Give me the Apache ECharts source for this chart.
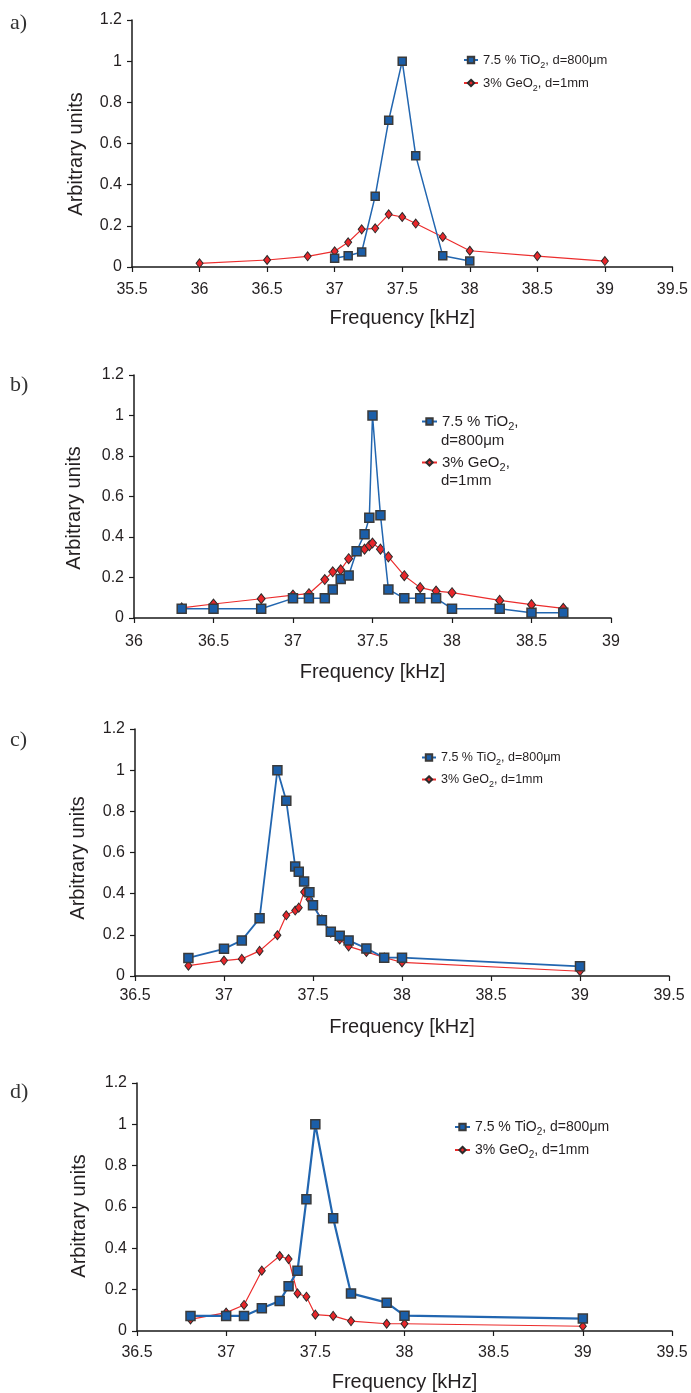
<!DOCTYPE html>
<html>
<head>
<meta charset="utf-8">
<script src="https://cdn.jsdelivr.net/npm/echarts@6/dist/echarts.min.js"></script>
<style>html,body{margin:0;padding:0;background:#fff}#c{width:691px;height:1393px}</style>
</head>
<body>
<div id="c"></div>
<script>
// ---------- DATA ----------
const TI_NAME = '7.5 % TiO2, d=800μm';
const GE_NAME = '3% GeO2, d=1mm';
const panelLabels = ['a)', 'b)', 'c)', 'd)'];
const xTitle = 'Frequency [kHz]';
const yTitle = 'Arbitrary units';

// panel a
const aTiX = [37.0, 37.1, 37.2, 37.3, 37.4, 37.5, 37.6, 37.8, 38.0];
const aTiY = [0.042, 0.055, 0.073, 0.344, 0.713, 1.0, 0.541, 0.055, 0.029];
const aGeX = [36.0, 36.5, 36.8, 37.0, 37.1, 37.2, 37.3, 37.4, 37.5, 37.6, 37.8, 38.0, 38.5, 39.0];
const aGeY = [0.018, 0.034, 0.052, 0.076, 0.12, 0.183, 0.188, 0.256, 0.243, 0.211, 0.146, 0.079, 0.053, 0.029];

// panel b
const bTiX = [36.3, 36.5, 36.8, 37.0, 37.1, 37.2, 37.25, 37.3, 37.35, 37.4, 37.45, 37.48, 37.5, 37.55, 37.6, 37.7, 37.8, 37.9, 38.0, 38.3, 38.5, 38.7];
const bTiY = [0.046, 0.046, 0.046, 0.097, 0.097, 0.097, 0.141, 0.192, 0.21, 0.33, 0.414, 0.495, 1.0, 0.508, 0.141, 0.097, 0.097, 0.097, 0.046, 0.046, 0.026, 0.026];
const bGeX = [36.3, 36.5, 36.8, 37.0, 37.1, 37.2, 37.25, 37.3, 37.35, 37.45, 37.48, 37.5, 37.55, 37.6, 37.7, 37.8, 37.9, 38.0, 38.3, 38.5, 38.7];
const bGeY = [0.05, 0.069, 0.095, 0.113, 0.12, 0.19, 0.228, 0.238, 0.293, 0.34, 0.357, 0.37, 0.34, 0.302, 0.209, 0.15, 0.133, 0.125, 0.087, 0.066, 0.048];

// panel c
const cTiX = [36.8, 37.0, 37.1, 37.2, 37.3, 37.35, 37.4, 37.42, 37.45, 37.48, 37.5, 37.55, 37.6, 37.65, 37.7, 37.8, 37.9, 38.0, 39.0];
const cTiY = [0.088, 0.132, 0.173, 0.28, 1.0, 0.851, 0.532, 0.507, 0.459, 0.407, 0.344, 0.271, 0.215, 0.196, 0.173, 0.134, 0.089, 0.089, 0.047];
const cGeX = [36.8, 37.0, 37.1, 37.2, 37.3, 37.35, 37.4, 37.42, 37.45, 37.48, 37.5, 37.55, 37.6, 37.65, 37.7, 37.8, 37.9, 38.0, 39.0];
const cGeY = [0.05, 0.075, 0.083, 0.122, 0.198, 0.295, 0.318, 0.332, 0.408, 0.373, 0.345, 0.275, 0.21, 0.177, 0.144, 0.117, 0.09, 0.066, 0.023];

// panel d
const dTiX = [36.8, 37.0, 37.1, 37.2, 37.3, 37.35, 37.4, 37.45, 37.5, 37.6, 37.7, 37.9, 38.0, 39.0];
const dTiY = [0.073, 0.073, 0.073, 0.11, 0.145, 0.216, 0.292, 0.637, 1.0, 0.545, 0.182, 0.137, 0.074, 0.06];
const dGeX = [36.8, 37.0, 37.1, 37.2, 37.3, 37.35, 37.4, 37.45, 37.5, 37.6, 37.7, 37.9, 38.0, 39.0];
const dGeY = [0.056, 0.089, 0.126, 0.292, 0.363, 0.348, 0.182, 0.166, 0.079, 0.073, 0.048, 0.035, 0.035, 0.023];

// axis ranges per panel
const xMins = [35.5, 36, 36.5, 36.5];
const xMaxs = [39.5, 39, 39.5, 39.5];

// ---------- LAYOUT / STYLE ----------
const FONT = "'Liberation Sans', Arial, Helvetica, sans-serif";
const TXT = '#231f20';
const grids = [
  {left: 132, top: 20, width: 541, height: 247},
  {left: 134, top: 375, width: 477, height: 243},
  {left: 135, top: 729, width: 534, height: 247},
  {left: 137, top: 1083, width: 535, height: 248}
];
const labelMargins = [15, 16, 12, 14];
const nameGaps = [41, 44, 41, 41];
const yNamePos = [[76, 154], [74, 508], [78, 858], [79, 1216]];
const panelLabelPos = [[10, 23], [10, 385], [10, 740], [10, 1092]];

const panels = [
  {tiX: aTiX, tiY: aTiY, geX: aGeX, geY: aGeY, sq: 8, di: [7, 9], tiW: 1.5},
  {tiX: bTiX, tiY: bTiY, geX: bGeX, geY: bGeY, sq: 9, di: [8, 10], tiW: 1.5},
  {tiX: cTiX, tiY: cTiY, geX: cGeX, geY: cGeY, sq: 9, di: [7, 9], tiW: 1.8},
  {tiX: dTiX, tiY: dTiY, geX: dGeX, geY: dGeY, sq: 9, di: [7, 9], tiW: 2.2}
];

const pair = (xs, ys) => xs.map((x, i) => [x, ys[i]]);

const xAxis = [], yAxis = [], series = [];
panels.forEach((p, i) => {
  xAxis.push({
    type: 'value', gridIndex: i, min: xMins[i], max: xMaxs[i], interval: 0.5,
    name: xTitle, nameLocation: 'middle', nameGap: nameGaps[i],
    nameTextStyle: {fontFamily: FONT, fontSize: 20, color: TXT},
    axisLine: {onZero: false, lineStyle: {color: '#1a1a1a', width: 1.5}},
    axisTick: {show: true, length: 5, lineStyle: {color: '#1a1a1a', width: 1.2}},
    axisLabel: {fontFamily: FONT, fontSize: 16, color: TXT, margin: labelMargins[i], showMinLabel: true, showMaxLabel: true},
    splitLine: {show: false}
  });
  yAxis.push({
    type: 'value', gridIndex: i, min: 0, max: 1.2, interval: 0.2,
    axisLine: {show: true, lineStyle: {color: '#1a1a1a', width: 1.5}},
    axisTick: {show: true, length: 5, lineStyle: {color: '#1a1a1a', width: 1.2}},
    axisLabel: {fontFamily: FONT, fontSize: 16, color: TXT, margin: 10},
    splitLine: {show: false}
  });
  series.push({
    type: 'line', name: GE_NAME, xAxisIndex: i, yAxisIndex: i,
    data: pair(p.geX, p.geY),
    symbol: 'diamond', symbolSize: p.di,
    itemStyle: {color: '#e8262a', borderColor: '#2b2b2b', borderWidth: 1},
    lineStyle: {color: '#ec2d2d', width: 1.2},
    z: 2
  });
  series.push({
    type: 'line', name: TI_NAME, xAxisIndex: i, yAxisIndex: i,
    data: pair(p.tiX, p.tiY),
    symbol: 'rect', symbolSize: p.sq,
    itemStyle: {color: '#1b5ea8', borderColor: '#3a3a3a', borderWidth: 1.5},
    lineStyle: {color: '#2266b0', width: p.tiW},
    z: 3
  });
});

const subFmt = n => n.replace('O2', 'O{sub|2}');
const richFor = fs => ({sub: {fontSize: Math.round(fs * 0.72), fontFamily: FONT, color: TXT, verticalAlign: 'bottom', padding: [0, 0, -2, 0]}});
const mkLegend = (left, top, fs, lh, gap, iw, fmt) => ({
  orient: 'vertical', left: left, top: top, padding: 0, itemGap: gap,
  itemWidth: iw, itemHeight: 8, data: [TI_NAME, GE_NAME],
  selectedMode: false,
  textStyle: {fontFamily: FONT, fontSize: fs, color: TXT, lineHeight: lh, rich: richFor(fs)},
  formatter: fmt
});
const legend = [
  mkLegend(463, 52, 13, 16, 5, 14, n => subFmt(n)),
  mkLegend(421, 413, 15, 17, 22, 15, n => subFmt(n.split(', ')[0] + ',')),
  mkLegend(421, 750, 12.5, 15, 5, 14, n => subFmt(n)),
  mkLegend(454, 1119, 14, 16, 5, 15, n => subFmt(n))
];

const graphic = [];
panelLabels.forEach((t, i) => {
  graphic.push({type: 'text', x: panelLabelPos[i][0], y: panelLabelPos[i][1],
    style: {text: t, fontFamily: "'Liberation Serif', 'DejaVu Serif', serif", fontSize: 22, fill: '#333', verticalAlign: 'middle', align: 'left'}});
  graphic.push({type: 'text', x: yNamePos[i][0], y: yNamePos[i][1], rotation: Math.PI / 2,
    style: {text: yTitle, fontFamily: FONT, fontSize: 20, fill: TXT, align: 'center', verticalAlign: 'middle'}});
});
// continuation lines of panel b legend
const bCont = [TI_NAME.split(', ')[1], GE_NAME.split(', ')[1]];
graphic.push({type: 'text', x: 441, y: 441, style: {text: bCont[0], fontFamily: FONT, fontSize: 15, fill: TXT, verticalAlign: 'middle'}});
graphic.push({type: 'text', x: 441, y: 481, style: {text: bCont[1], fontFamily: FONT, fontSize: 15, fill: TXT, verticalAlign: 'middle'}});

const chart = echarts.init(document.getElementById('c'), null, {renderer: 'canvas'});
chart.setOption({
  animation: false,
  backgroundColor: '#fff',
  grid: grids,
  xAxis: xAxis,
  yAxis: yAxis,
  legend: legend,
  series: series,
  graphic: graphic
});
</script>
</body>
</html>
